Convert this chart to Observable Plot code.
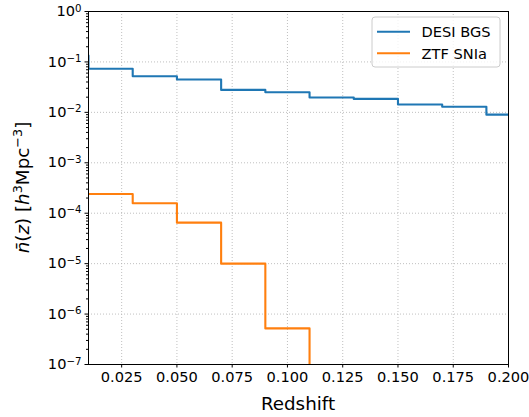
<!DOCTYPE html>
<html><head><meta charset="utf-8">
<script src="https://cdn.jsdelivr.net/npm/d3@7"></script>
<script src="https://cdn.jsdelivr.net/npm/@observablehq/plot@0.6"></script>
<style>body{margin:0;background:#fff;} #chart{width:529px;height:417px;}</style>
</head><body><div id="chart"></div>
<script>
// Bin left edges (last entry = right edge of last bin)
const binEdges = [-0.01, 0.01, 0.03, 0.05, 0.07, 0.09, 0.11, 0.13, 0.15, 0.17, 0.19, 0.21];
const desiBGS = [0.134, 0.073, 0.052, 0.0448, 0.0279, 0.0250, 0.0197, 0.0185, 0.0143, 0.0129, 0.0090, 0.0090];
const ztfSNIa = [null, 2.4e-4, 1.58e-4, 6.5e-5, 1.0e-5, 5.2e-7, 0, 0, 0, 0, 0, 0];
const seriesNames = ["DESI BGS", "ZTF SNIa"];
const seriesColors = ["#1f77b4", "#ff7f0e"];
const xTicks = [0.025, 0.05, 0.075, 0.1, 0.125, 0.15, 0.175, 0.2];
const yTicks = [1e-7, 1e-6, 1e-5, 1e-4, 1e-3, 1e-2, 1e-1, 1];
const xLabel = "Redshift";

const W = 529, H = 417, mL = 88, mR = 21, mT = 11, mB = 53;
const FONT = "DejaVu Sans";
const tickFont = 14.6, labelFont = 18.3;

const rows = [];
[desiBGS, ztfSNIa].forEach((vals, s) => {
  vals.forEach((v, i) => rows.push({series: seriesNames[s], x: binEdges[i], v}));
});
const minorTicks = [];
yTicks.slice(0, -1).forEach(t => { for (let m = 2; m <= 9; m++) minorTicks.push(t * m); });

const fmtPow = d => "10^" + String(Math.round(Math.log10(d))).replace("-", "\u2212");

const chart = Plot.plot({
  width: W, height: H,
  marginLeft: mL, marginRight: mR, marginTop: mT, marginBottom: mB,
  style: {fontFamily: FONT, fontSize: tickFont + "px", color: "black", background: "white"},
  x: {domain: [0.01, 0.2]},
  y: {type: "log", domain: [1e-7, 1]},
  color: {domain: seriesNames, range: seriesColors},
  marks: [
    Plot.gridX(xTicks, {stroke: "#b0b0b0", strokeOpacity: 1, strokeWidth: 0.8, strokeDasharray: "1,2"}),
    Plot.gridY(yTicks, {stroke: "#b0b0b0", strokeOpacity: 1, strokeWidth: 0.8, strokeDasharray: "1,2"}),
    Plot.line(rows, {
      x: "x",
      y: d => d.v == null ? null : Math.max(d.v, 1e-12),
      z: "series", stroke: "series", strokeWidth: 2.1,
      curve: "step-after", clip: true
    }),
    Plot.frame({stroke: "black", strokeWidth: 1}),
    Plot.axisX(xTicks, {tickSize: 3.5, tickPadding: 3.5, tickFormat: d3.format(".3f"), fontSize: tickFont, label: null}),
    Plot.axisY(yTicks, {tickSize: 3.5, tickPadding: 3.5, tickFormat: fmtPow, fontSize: tickFont, label: null, ariaLabel: "ymajor"}),
    Plot.axisY(minorTicks, {tickSize: 2, tickFormat: () => "", label: null})
  ]
});
document.getElementById("chart").appendChild(chart);

const svg = d3.select(chart);

// render y tick labels as 10 with a raised, smaller exponent
svg.selectAll("text").each(function() {
  const t = d3.select(this);
  const s = t.text();
  if (/^10\^/.test(s) && this.childElementCount === 0) {
    const [base, exp] = s.split("^");
    t.text(null);
    t.append("tspan").text(base);
    t.append("tspan").attr("font-size", tickFont * 0.7).attr("dy", "-0.45em").text(exp);
  }
});

// x label
svg.append("text")
  .attr("x", (mL + W - mR) / 2).attr("y", 410)
  .attr("text-anchor", "middle")
  .attr("font-family", FONT).attr("font-size", labelFont)
  .attr("fill", "black").text(xLabel);

// y label with math formatting
const yl = svg.append("text")
  .attr("transform", `translate(28.5,${(mT + H - mB) / 2}) rotate(-90)`)
  .attr("text-anchor", "middle")
  .attr("font-family", FONT).attr("font-size", labelFont).attr("fill", "black");
yl.append("tspan").attr("font-style", "italic").text("n\u0304");
yl.append("tspan").text("(");
yl.append("tspan").attr("font-style", "italic").text("z");
yl.append("tspan").text(") [");
yl.append("tspan").attr("font-style", "italic").text("h");
yl.append("tspan").attr("font-size", labelFont * 0.7).attr("dy", -7).text("3");
yl.append("tspan").attr("dy", 7).text("Mpc");
yl.append("tspan").attr("font-size", labelFont * 0.7).attr("dy", -7).text("\u22123");
yl.append("tspan").attr("dy", 7).text("]");

// legend
const lg = svg.append("g").attr("text-anchor", "start");
lg.append("rect").attr("x", 372).attr("y", 17).attr("width", 128).attr("height", 50).attr("rx", 3)
  .attr("fill", "white").attr("fill-opacity", 0.8).attr("stroke", "#cccccc");
seriesNames.forEach((name, i) => {
  const yy = 31.7 + i * 21.6;
  lg.append("line").attr("x1", 377).attr("x2", 410).attr("y1", yy).attr("y2", yy)
    .attr("stroke", seriesColors[i]).attr("stroke-width", 2.1);
  lg.append("text").attr("x", 421.5).attr("y", yy + 5.2).attr("text-anchor", "start")
    .attr("font-family", FONT).attr("font-size", tickFont).attr("fill", "black").text(name);
});
</script>
</body></html>
